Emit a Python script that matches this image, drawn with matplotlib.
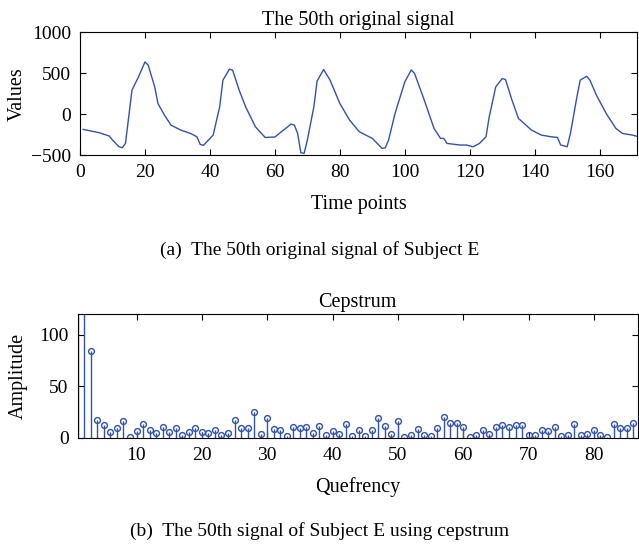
import matplotlib.pyplot as plt

plt.rcParams['font.family'] = ['Liberation Serif', 'DejaVu Serif']
plt.rcParams['font.size'] = 14

# 50th original signal
time_points = [1, 6, 9, 10, 12, 13, 14, 15, 16, 18, 20, 21, 23, 24, 26, 28, 31, 34, 36, 37,
               38, 41, 43, 44, 46, 47, 49, 51, 54, 57, 60, 62, 65, 66, 67, 68, 69, 70, 72, 73,
               75, 77, 80, 83, 86, 90, 93, 94, 95, 97, 100, 102, 103, 106, 109, 111, 112, 113,
               117, 119, 121, 123, 125, 126, 128, 130, 131, 133, 135, 139, 142, 145, 147, 148,
               150, 151, 153, 154, 156, 157, 159, 162, 165, 167, 170, 172]
signal_values = [-187, -228, -268, -317, -399, -411, -358, -33, 293, 455, 638, 598, 333, 130,
                 -12, -134, -195, -236, -277, -370, -382, -256, 89, 415, 549, 537, 293, 89,
                 -155, -285, -280, -216, -122, -134, -236, -472, -480, -317, 89, 404, 545, 415,
                 130, -73, -216, -297, -419, -411, -317, 8, 394, 540, 497, 171, -175, -297,
                 -297, -358, -378, -378, -399, -358, -277, -33, 333, 435, 423, 171, -53, -195,
                 -256, -277, -285, -378, -399, -236, 212, 415, 463, 415, 232, 8, -175, -236,
                 -256, -277]

# cepstrum amplitudes for quefrency 1..86
quefrency = list(range(1, 87))
amplitude = [400, 180, 84, 17, 12, 5.5, 9, 16.5, 1, 6.5, 13, 7.4, 4.2, 10.6, 5.8, 9.7, 2.6,
             5.8, 9.7, 5.2, 4.2, 7.4, 3, 5, 17, 9.5, 9, 24.5, 4, 19.5, 8, 7, 2, 10.5, 9, 10,
             5, 11, 3, 6.5, 4, 13, 2, 7, 2, 7, 19.5, 11, 4, 16.5, 1, 3, 8, 3, 2, 9, 20, 14,
             14, 10, 1, 3, 7, 4, 10, 12, 10.5, 12, 12, 3, 3, 7, 6, 10, 2, 3, 13, 3, 4, 7, 3,
             0.5, 13, 9, 9, 14.5]

blue = '#3252b0'

fig = plt.figure(figsize=(6.39, 5.46), dpi=100)

ax1 = fig.add_axes([0.1252, 0.7161, 0.8717, 0.2247])
ax1.plot(time_points, signal_values, color=blue, lw=1.0)
ax1.set_xlim(0, 171.5)
ax1.set_ylim(-500, 1000)
ax1.set_xticks(range(0, 161, 20))
ax1.set_yticks([-500, 0, 500, 1000])
ax1.set_yticklabels(['\u2212500', '0', '500', '1000'])
ax1.set_xlabel('Time points', labelpad=10, fontsize=14.5)
ax1.set_ylabel('Values', labelpad=3, fontsize=14.5)
ax1.set_title('The 50th original signal', fontsize=14.5, pad=5)

ax2 = fig.add_axes([0.1216, 0.1984, 0.8764, 0.2265])
markerline, stemlines, baseline = ax2.stem(quefrency, amplitude, basefmt=' ')
plt.setp(stemlines, color=blue, lw=1.0)
plt.setp(markerline, color=blue, marker='o', markersize=4.2,
         markerfacecolor='none', markeredgewidth=1.0)
ax2.set_xlim(1, 86.7)
ax2.set_ylim(0, 120)
ax2.set_xticks(range(10, 81, 10))
ax2.set_yticks([0, 50, 100])
ax2.set_xlabel('Quefrency', labelpad=10, fontsize=14.5)
ax2.set_ylabel('Amplitude', labelpad=8, fontsize=14.5)
ax2.set_title('Cepstrum', fontsize=14.5, pad=5)

for ax in (ax1, ax2):
    ax.tick_params(direction='in', top=True, right=True, length=4, width=0.8, pad=6.5)
    for s in ax.spines.values():
        s.set_linewidth(0.8)

fig.text(0.5, 0.542, '(a)  The 50th original signal of Subject E', ha='center', va='center',
         fontsize=14)
fig.text(0.5, 0.028, '(b)  The 50th signal of Subject E using cepstrum', ha='center',
         va='center', fontsize=14)

fig.savefig('out.png', dpi=100)
